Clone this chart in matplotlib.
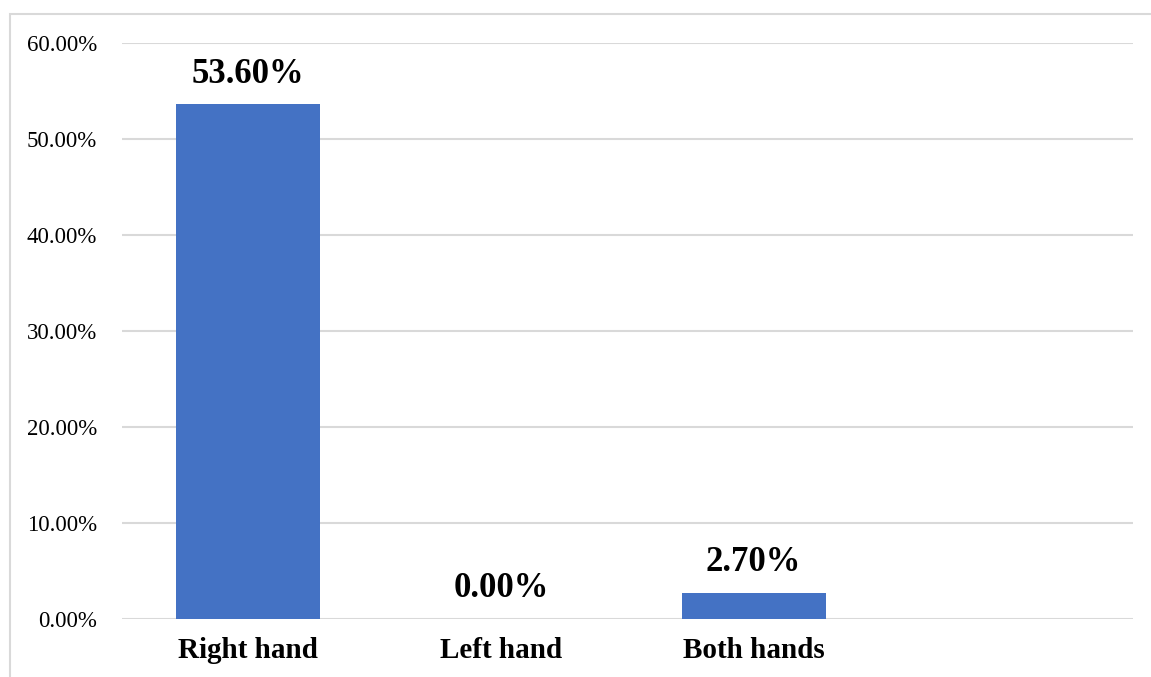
import matplotlib.pyplot as plt
from matplotlib.patches import Rectangle
from matplotlib import rcParams

rcParams['font.family'] = 'Liberation Serif'

categories = ['Right hand', 'Left hand', 'Both hands', '']
values = [53.6, 0.0, 2.7, None]
ticks = [0, 10, 20, 30, 40, 50, 60]

fig = plt.figure(figsize=(11.51, 6.77), dpi=100)
ax = fig.add_axes([0.106, 0.0857, 0.878, 0.8508])

# outer chart border (only top/left visible in the crop)
fig.patches.append(Rectangle((10 / 1151, -0.2), 1.2, 1.2 - 14 / 677,
                             transform=fig.transFigure, fill=False,
                             edgecolor='#d9d9d9', linewidth=1.5))

xs = range(len(categories))
heights = [v if v is not None else 0 for v in values]
bars = ax.bar(xs, heights, width=0.57, color='#4472c4', zorder=3)

for x, v in zip(xs, values):
    if v is None:
        continue
    ax.annotate('%.2f%%' % v, (x, v), xytext=(0, 10), textcoords='offset points',
                ha='center', va='bottom', fontsize=25, fontweight='bold')

ax.set_xlim(-0.5, 3.5)
ax.set_ylim(0, 60)
ax.set_yticks(ticks)
ax.set_yticklabels(['%.2f%%' % t for t in ticks], fontsize=16.5)
ax.set_xticks(list(xs))
ax.set_xticklabels(categories, fontsize=21, fontweight='bold')
ax.tick_params(axis='both', length=0)
ax.tick_params(axis='y', pad=18)
ax.tick_params(axis='x', pad=13)
ax.grid(axis='y', color='#d9d9d9', linewidth=1.5, zorder=0)
for s in ax.spines.values():
    s.set_visible(False)

plt.savefig('out.png', dpi=100)
